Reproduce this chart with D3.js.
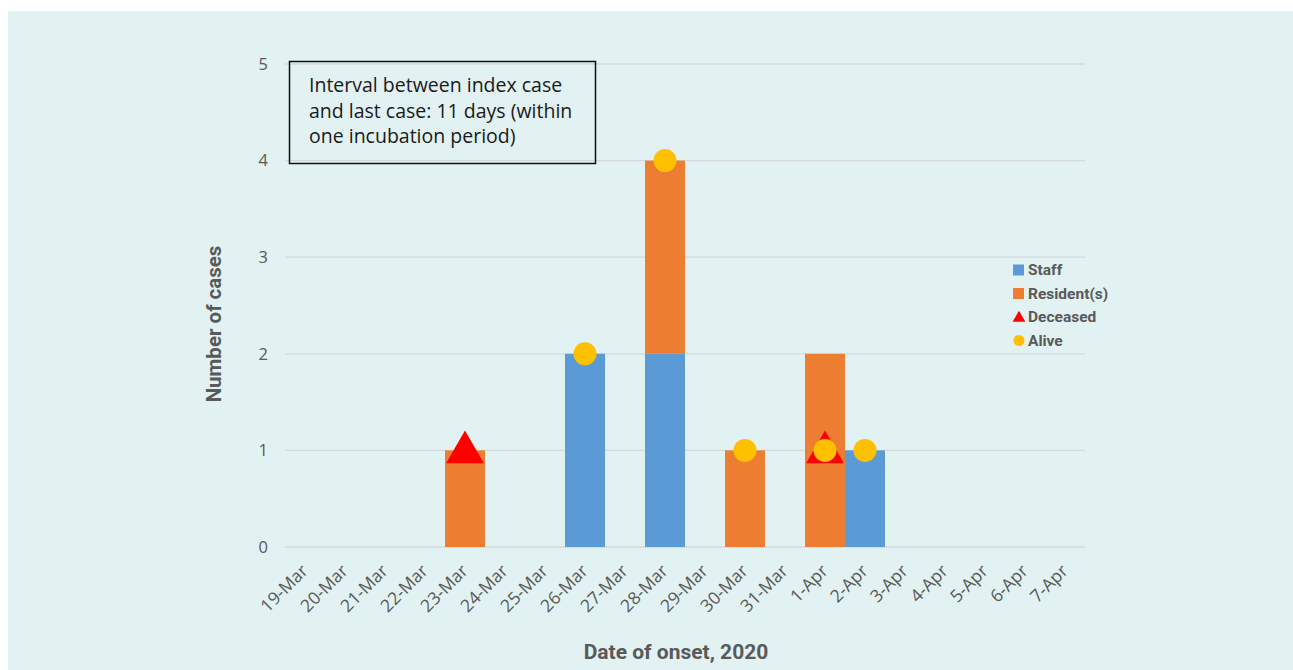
<!DOCTYPE html>
<html>
<head>
<meta charset="utf-8">
<script src="https://cdn.jsdelivr.net/npm/d3@7"></script>
<style>
  body { margin: 0; background: #fff; }
  svg { display: block; }
</style>
</head>
<body>
<div id="chart"></div>
<script>
// dates of onset
var dates = ['19-Mar', '20-Mar', '21-Mar', '22-Mar', '23-Mar', '24-Mar', '25-Mar',
             '26-Mar', '27-Mar', '28-Mar', '29-Mar', '30-Mar', '31-Mar',
             '1-Apr', '2-Apr', '3-Apr', '4-Apr', '5-Apr', '6-Apr', '7-Apr'];

var staff     = [0, 0, 0, 0, 0, 0, 0, 2, 0, 2, 0, 0, 0, 0, 1, 0, 0, 0, 0, 0];
var residents = [0, 0, 0, 0, 1, 0, 0, 0, 0, 2, 0, 1, 0, 2, 0, 0, 0, 0, 0, 0];

// outcome markers: date + y value
var deceased = [{date: '23-Mar', value: 1}, {date: '1-Apr', value: 1}];
var alive    = [{date: '26-Mar', value: 2}, {date: '28-Mar', value: 4},
                {date: '30-Mar', value: 1}, {date: '1-Apr', value: 1},
                {date: '2-Apr', value: 1}];

var yTicks = [0, 1, 2, 3, 4, 5];
var legendItems = ['Staff', 'Resident(s)', 'Deceased', 'Alive'];
var noteLines = ['Interval between index case', 'and last case: 11 days (within', 'one incubation period)'];

var colors = {staff: '#5b9bd5', resident: '#ed7d31', deceased: '#ff0000', alive: '#ffc000'};
var textGrey = '#595959';

var width = 1293, height = 670;
var plot = {left: 285, right: 1085, top: 64, bottom: 547};

var svg = d3.select('#chart').append('svg')
    .attr('width', width)
    .attr('height', height);

svg.append('rect')
    .attr('x', 8).attr('y', 11)
    .attr('width', width - 8).attr('height', height - 11)
    .attr('fill', '#e2f1f1');

var x = d3.scaleBand().domain(dates).range([plot.left, plot.right]).padding(0);
var y = d3.scaleLinear().domain([0, 5]).range([plot.bottom, plot.top]);

// gridlines
svg.append('g').selectAll('line')
    .data(yTicks)
    .enter().append('line')
    .attr('x1', plot.left).attr('x2', plot.right)
    .attr('y1', d => y(d)).attr('y2', d => y(d))
    .attr('stroke', '#d4d9d9')
    .attr('stroke-width', 1.3);

// y axis labels
svg.append('g').selectAll('text')
    .data(yTicks)
    .enter().append('text')
    .attr('x', 268)
    .attr('y', d => y(d))
    .attr('dy', '0.35em')
    .attr('text-anchor', 'end')
    .attr('font-family', 'Open Sans, sans-serif')
    .attr('font-size', 16.5)
    .attr('fill', textGrey)
    .text(d => d);

// x axis labels
svg.append('g').selectAll('text')
    .data(dates)
    .enter().append('text')
    .attr('text-anchor', 'end')
    .attr('font-family', 'Open Sans, sans-serif')
    .attr('font-size', 17.5)
    .attr('fill', textGrey)
    .attr('transform', d => 'translate(' + (x(d) + x.bandwidth() / 2 + 4) + ',' + 572 + ') rotate(-45)')
    .text(d => d);

// stacked bars
var stackData = dates.map((d, i) => ({date: d, staff: staff[i], resident: residents[i]}));
var series = d3.stack().keys(['staff', 'resident'])(stackData);

svg.append('g').selectAll('g')
    .data(series)
    .enter().append('g')
    .attr('fill', d => colors[d.key])
    .selectAll('rect')
    .data(d => d.filter(p => p[1] > p[0]))
    .enter().append('rect')
    .attr('x', d => x(d.data.date))
    .attr('y', d => y(d[1]))
    .attr('width', x.bandwidth())
    .attr('height', d => y(d[0]) - y(d[1]));

// deceased triangles
var tri = d3.symbol().type(d3.symbolTriangle).size(620);
svg.append('g').selectAll('path')
    .data(deceased)
    .enter().append('path')
    .attr('d', tri)
    .attr('fill', colors.deceased)
    .attr('transform', d => 'translate(' + (x(d.date) + x.bandwidth() / 2) + ',' + (y(d.value) + 2) + ')');

// alive circles
svg.append('g').selectAll('circle')
    .data(alive)
    .enter().append('circle')
    .attr('cx', d => x(d.date) + x.bandwidth() / 2)
    .attr('cy', d => y(d.value))
    .attr('r', 11.5)
    .attr('fill', colors.alive);

// annotation box
svg.append('rect')
    .attr('x', 289.5).attr('y', 61.5)
    .attr('width', 306).attr('height', 102)
    .attr('fill', 'none')
    .attr('stroke', '#111')
    .attr('stroke-width', 1.5);

svg.append('g').selectAll('text')
    .data(noteLines)
    .enter().append('text')
    .attr('x', 309)
    .attr('y', (d, i) => 92 + i * 25.5)
    .attr('font-family', 'Open Sans, sans-serif')
    .attr('font-size', 19.5)
    .attr('fill', '#1a1a1a')
    .text(d => d);

// legend
var legend = svg.append('g').selectAll('g')
    .data(legendItems)
    .enter().append('g')
    .attr('transform', (d, i) => 'translate(1019,' + (270 + i * 23.5) + ')');

legend.each(function(d, i) {
    var g = d3.select(this);
    if (i < 2) {
        g.append('rect').attr('x', -6).attr('y', -5.5).attr('width', 11).attr('height', 11)
            .attr('fill', i == 0 ? colors.staff : colors.resident);
    } else if (i == 2) {
        g.append('path').attr('d', d3.symbol().type(d3.symbolTriangle).size(70))
            .attr('transform', 'translate(0,1)')
            .attr('fill', colors.deceased);
    } else {
        g.append('circle').attr('r', 5.5).attr('fill', colors.alive);
    }
});

legend.append('text')
    .attr('x', 9)
    .attr('dy', '0.35em')
    .attr('font-family', 'Roboto, sans-serif')
    .attr('font-weight', 'bold')
    .attr('font-size', 15.5)
    .attr('fill', textGrey)
    .text(d => d);

// axis titles
svg.append('text')
    .attr('x', 676).attr('y', 659)
    .attr('text-anchor', 'middle')
    .attr('font-family', 'Roboto, sans-serif')
    .attr('font-weight', 'bold')
    .attr('font-size', 21)
    .attr('fill', textGrey)
    .text('Date of onset, 2020');

svg.append('text')
    .attr('transform', 'translate(221,324) rotate(-90)')
    .attr('text-anchor', 'middle')
    .attr('font-family', 'Roboto, sans-serif')
    .attr('font-weight', 'bold')
    .attr('font-size', 20.5)
    .attr('fill', textGrey)
    .text('Number of cases');
</script>
</body>
</html>
